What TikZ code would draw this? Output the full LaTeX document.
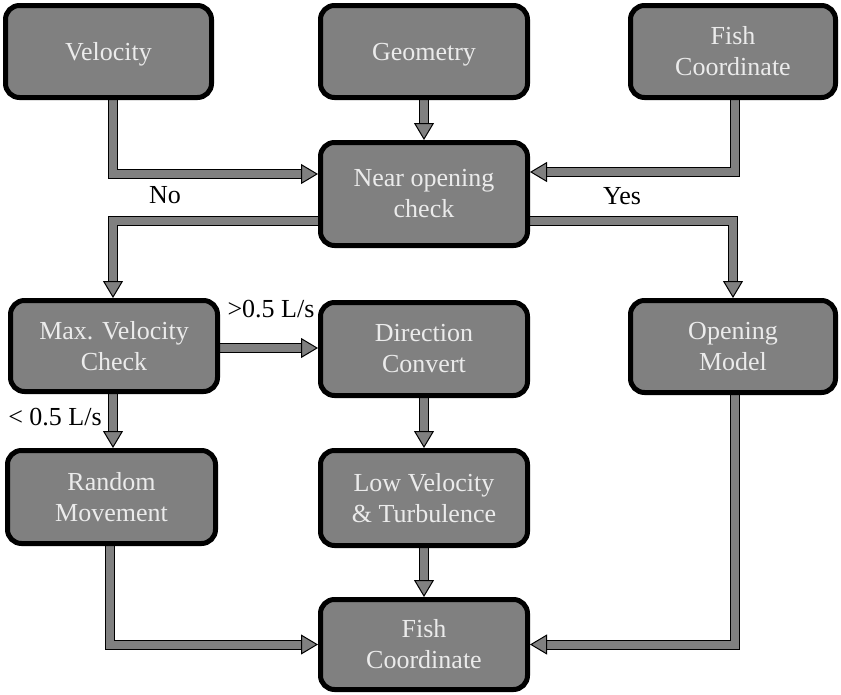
\documentclass[tikz,border=0pt]{standalone}
\usepackage{fontspec}
\setmainfont{Liberation Serif}
\usetikzlibrary{arrows.meta,backgrounds}
\definecolor{boxfill}{RGB}{128,128,128}
\definecolor{boxtext}{RGB}{235,235,235}
\begin{document}
\begin{tikzpicture}[x=1pt,y=-1pt,
 box/.style={draw=black, line width=5pt, fill=boxfill, rounded corners=14pt, text=boxtext,
   font=\fontsize{26}{31}\selectfont, align=center, inner sep=0pt},
 lbl/.style={font=\fontsize{26}{31}\selectfont, anchor=base, inner sep=0pt, text=black},
 flow/.style={draw=black, line width=1pt, double=boxfill, double distance=8pt, miter limit=20,
   -{Triangle[length=17pt,width=20pt,fill=boxfill,line width=1pt]}}
]
\useasboundingbox (0,0) rectangle (841,694);

\node[box, minimum width=206pt, minimum height=92pt, text depth=0pt] (vel) at (108.5,51.5) {Velocity};
\node[box, minimum width=207pt, minimum height=92pt, text depth=0pt] (geo) at (424,51.5) {Geometry};
\node[box, minimum width=205pt, minimum height=92pt] (fishA) at (733,51.5) {Fish\\Coordinate};
\node[box, minimum width=207pt, minimum height=103pt] (near) at (424,194) {Near opening\\check};
\node[box, minimum width=207pt, minimum height=91pt] (max) at (114,346) {Max. Velocity\\Check};
\node[box, minimum width=207pt, minimum height=93pt] (dir) at (424,349) {Direction\\Convert};
\node[box, minimum width=205pt, minimum height=92pt] (open) at (733,346.5) {Opening\\Model};
\node[box, minimum width=208pt, minimum height=93pt] (rand) at (111.5,497) {Random\\Movement};
\node[box, minimum width=207pt, minimum height=95pt] (low) at (424,498) {Low Velocity\\\& Turbulence};
\node[box, minimum width=207pt, minimum height=90pt] (fishB) at (424,644.5) {Fish\\Coordinate};

\node[lbl] (lno) at (165,203) {No};
\node[lbl] (lyes) at (622,204) {Yes};
\node[lbl] (lgt) at (271,317) {>0.5 L/s};
\node[lbl] (llt) at (55,425) {< 0.5 L/s};

\begin{scope}[on background layer]
\draw[flow] (113,0 |- vel.south) |- (near.west |- 0,174);
\draw[flow] (geo.south) -- (near.north);
\draw[flow] (735,0 |- fishA.south) |- (near.east |- 0,172);
\draw[flow] (near.west |- 0,221) -| (113,0 |- max.north);
\draw[flow] (near.east |- 0,221) -| (open.north);
\draw[flow] (max.east |- 0,348) -- (dir.west |- 0,348);
\draw[flow] (113,0 |- max.south) -- (113,0 |- rand.north);
\draw[flow] (dir.south) -- (low.north);
\draw[flow] (low.south) -- (fishB.north);
\draw[flow] (110,0 |- rand.south) |- (fishB.west);
\draw[flow] (735,0 |- open.south) |- (fishB.east);
\end{scope}
\end{tikzpicture}
\end{document}
